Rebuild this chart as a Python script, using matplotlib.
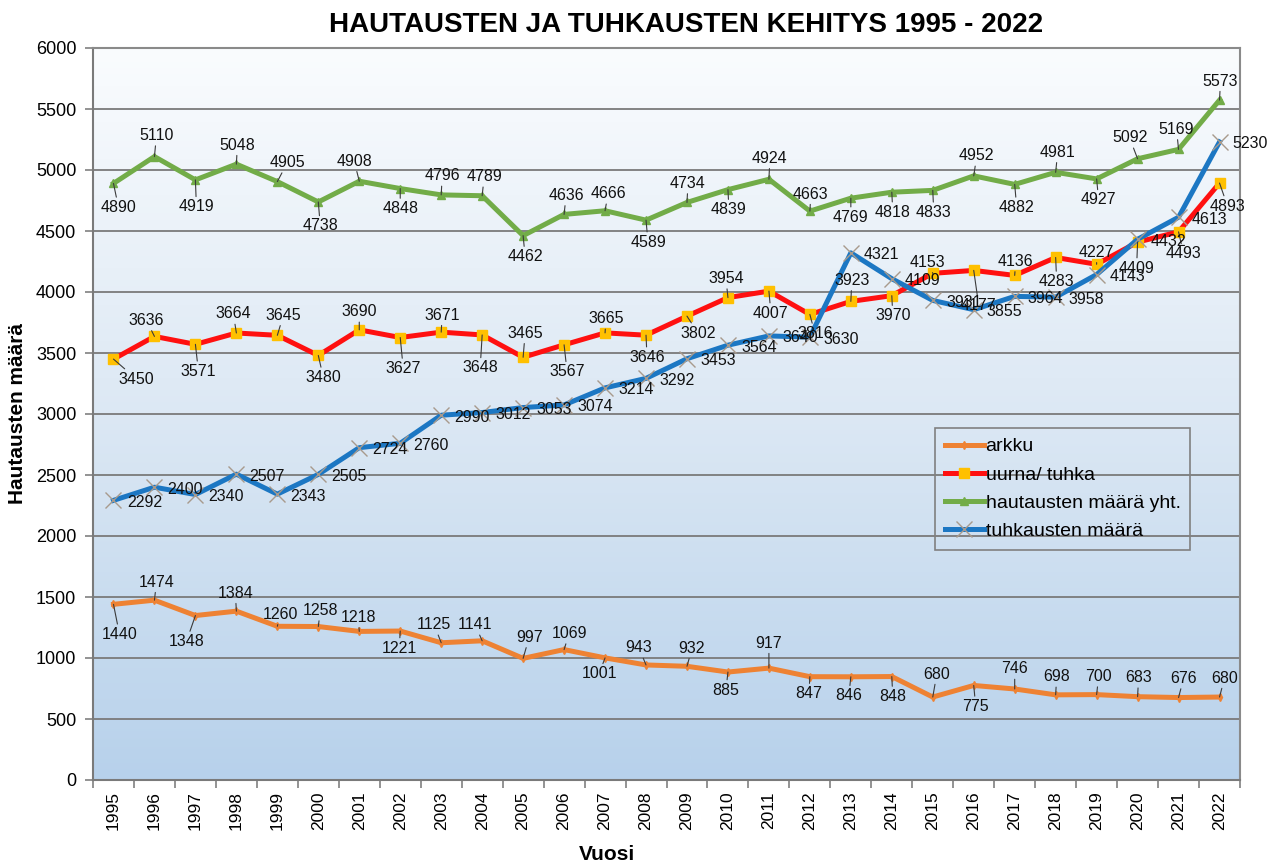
import numpy as np
import matplotlib
matplotlib.use("Agg")
import matplotlib.pyplot as plt
from matplotlib.colors import LinearSegmentedColormap

plt.rcParams['font.family'] = ['Liberation Sans', 'DejaVu Sans']

# ---------------- data ----------------
years = list(range(1995, 2023))
year_labels = [str(y) for y in years]

arkku = [1440, 1474, 1348, 1384, 1260, 1258, 1218, 1221, 1125, 1141, 997, 1069,
         1001, 943, 932, 885, 917, 847, 846, 848, 680, 775, 746, 698, 700, 683,
         676, 680]
uurna = [3450, 3636, 3571, 3664, 3645, 3480, 3690, 3627, 3671, 3648, 3465, 3567,
         3665, 3646, 3802, 3954, 4007, 3816, 3923, 3970, 4153, 4177, 4136, 4283,
         4227, 4409, 4493, 4893]
hautaus = [4890, 5110, 4919, 5048, 4905, 4738, 4908, 4848, 4796, 4789, 4462, 4636,
           4666, 4589, 4734, 4839, 4924, 4663, 4769, 4818, 4833, 4952, 4882, 4981,
           4927, 5092, 5169, 5573]
tuhkaus = [2292, 2400, 2340, 2507, 2343, 2505, 2724, 2760, 2990, 3012, 3053, 3074,
           3214, 3292, 3453, 3564, 3640, 3630, 4321, 4109, 3931, 3855, 3964, 3958,
           4143, 4432, 4613, 5230]

series_names = ["arkku", "uurna/ tuhka", "hautausten määrä yht.", "tuhkausten määrä"]

# ---------------- label offsets (pixels) ----------------
arkku_off = [(6, -30), (2, 18), (-9, -26), (-1, 18), (3, 12), (2, 16), (-1, 14),
             (-1, -17), (-7, 18), (-7, 16), (6, 21), (5, 16), (-6, -16), (-7, 17),
             (5, 18), (-2, -18), (0, 25), (-1, -17), (-2, -19), (1, -20), (4, 23),
             (2, -21), (0, 20), (1, 18), (2, 18), (1, 19), (5, 19), (5, 19)]
uurna_off = [(23, -20), (-8, 16), (3, -27), (-3, 19), (6, 20), (5, -22), (0, 18),
             (3, -31), (1, 17), (-2, -33), (2, 24), (3, -27), (1, 14), (1, -22),
             (11, -17), (-2, 19), (2, -22), (5, -19), (1, 21), (1, -20), (-5, 11),
             (5, -35), (1, 14), (1, -24), (0, 12), (-1, -26), (5, -22), (8, -23)]
hautaus_off = [(5, -24), (2, 21), (1, -27), (1, 19), (10, 19), (2, -24), (-5, 20),
               (0, -20), (1, 19), (2, 19), (2, -21), (2, 19), (3, 17), (2, -22),
               (1, 19), (1, -20), (1, 21), (1, 17), (0, -19), (1, -20), (1, -22),
               (3, 20), (2, -23), (2, 20), (2, -21), (-8, 21), (-2, 20), (1, 19)]
tuhkaus_off = [(31, -2)] * len(years)

# ---------------- figure ----------------
W, H = 1279, 866
fig = plt.figure(figsize=(W / 100, H / 100), dpi=100)
fig.patch.set_facecolor("white")
ax = fig.add_axes([93 / W, (H - 780) / H, (1240 - 93) / W, (780 - 48) / H])

x = np.arange(len(years))

# gradient background (white at top -> light blue at bottom)
cmap = LinearSegmentedColormap.from_list("bg", ["#FAFCFE", "#DCE8F4", "#B7D1EB"])
grad = np.linspace(0, 1, 256).reshape(-1, 1)
ax.imshow(grad, extent=(-0.5, len(years) - 0.5, 0, 6000), aspect="auto",
          cmap=cmap, zorder=0, interpolation="bicubic", origin="upper")

ax.set_xlim(-0.5, len(years) - 0.5)
ax.set_ylim(0, 6000)
ax.set_yticks(np.arange(0, 6001, 500))
ax.set_axisbelow(True)
ax.yaxis.grid(True, color="#7A7A7A", lw=1.3)
ax.xaxis.grid(False)

c_arkku = "#EE8233"
c_uurna = "#FF1010"
c_haut = "#72AC48"
c_tuhk = "#1C77C3"

l1, = ax.plot(x, arkku, color=c_arkku, lw=3.6, marker="d", ms=4,
              mfc=c_arkku, mec=c_arkku, zorder=3, label=series_names[0])
l2, = ax.plot(x, uurna, color=c_uurna, lw=3.6, marker="s", ms=6.5,
              mfc="#FFC000", mec="#FFC000", zorder=3, label=series_names[1])
l3, = ax.plot(x, hautaus, color=c_haut, lw=3.6, marker="^", ms=5.5,
              mfc=c_haut, mec=c_haut, zorder=3, label=series_names[2])
l4, = ax.plot(x, tuhkaus, color=c_tuhk, lw=3.6, zorder=3, label=series_names[3])
ax.plot(x, tuhkaus, ls="none", marker="x", ms=12, mew=1.0, color="#A89A8C", zorder=4)

# data labels
def add_labels(vals, offs, leader=True):
    for i, (v, (dx, dy)) in enumerate(zip(vals, offs)):
        kw = {}
        if leader:
            kw["arrowprops"] = dict(arrowstyle="-", color="#3A3A3A", lw=0.8,
                                    shrinkA=0, shrinkB=0)
        ax.annotate(str(v), xy=(x[i], v), xytext=(dx, dy),
                    textcoords="offset pixels", ha="center", va="center",
                    fontsize=11.5, color="#111111", zorder=6, **kw)

add_labels(arkku, arkku_off)
add_labels(uurna, uurna_off)
add_labels(hautaus, hautaus_off)
add_labels(tuhkaus, tuhkaus_off, leader=False)

# ticks
ax.set_xticks(x)
ax.set_xticklabels(year_labels, rotation=90, fontsize=12.5)
ax.set_xticks(np.arange(-0.5, len(years), 1), minor=True)
ax.tick_params(axis="x", which="major", length=0, pad=8)
ax.tick_params(axis="x", which="minor", length=6, color="#808080", width=1.2)
ax.tick_params(axis="y", which="major", length=6, color="#808080", width=1.2,
               labelsize=13, pad=6)

for s in ax.spines.values():
    s.set_color("#8A8A8A")
    s.set_linewidth(1.5)
ax.spines["left"].set_color("#7A7A7A")
ax.spines["bottom"].set_color("#7A7A7A")

# legend
leg = ax.legend(handles=[l1, l2, l3, l4], loc="upper left",
                bbox_to_anchor=((935 - 93) / 1147, (780 - 428) / 732),
                fontsize=14, frameon=True, fancybox=False, framealpha=1,
                handlelength=2.0, handletextpad=0.1, labelspacing=0.55,
                borderpad=0.5, borderaxespad=0)
leg.get_frame().set_facecolor("none")
leg.get_frame().set_edgecolor("#808080")
leg.get_frame().set_linewidth(1.2)
leg_lines = leg.get_lines()
leg_lines[3].set_marker("x")
leg_lines[3].set_markeredgecolor("#A89A8C")
leg_lines[3].set_markersize(12)
leg_lines[3].set_markeredgewidth(1.0)

# titles
fig.text(686 / W, 1 - 25 / H, "HAUTAUSTEN JA TUHKAUSTEN KEHITYS 1995 - 2022",
         ha="center", va="center", fontsize=20, fontweight="bold")
fig.text(607 / W, 1 - 855 / H, "Vuosi", ha="center", va="center",
         fontsize=15, fontweight="bold")
fig.text(18 / W, 1 - 414 / H, "Hautausten määrä", ha="center", va="center",
         rotation=90, fontsize=15, fontweight="bold")

fig.savefig("out.png", dpi=100)
